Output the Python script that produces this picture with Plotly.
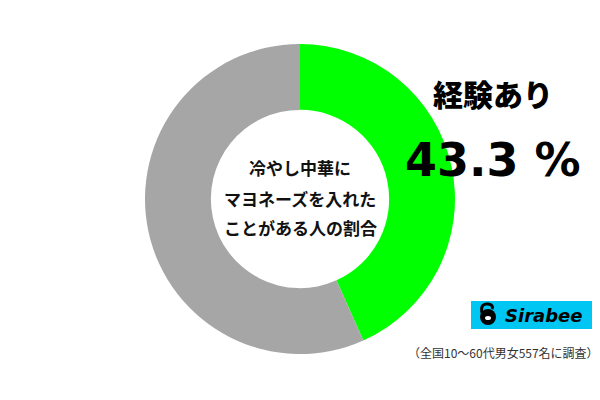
import plotly.graph_objects as go

labels = ["経験あり", "経験なし"]
values = [43.3, 56.7]
colors = ["#00FF00", "#A6A6A6"]
center_lines = ["冷やし中華に", "マヨネーズを入れた", "ことがある人の割合"]
headline = "経験あり"
pct_text = "43.3 %"
caption = "（全国10〜60代男女557名に調査）"
brand = "Sirabee"

W, H = 600, 400
def px(x): return x / W
def py(y): return 1 - y / H

fig = go.Figure(go.Pie(
    labels=labels, values=values, sort=False, direction="clockwise", rotation=0,
    hole=0.575, marker=dict(colors=colors, line=dict(width=0)),
    textinfo="none", hoverinfo="none", showlegend=False,
    domain=dict(x=[px(145), px(455)], y=[py(354), py(44)]),
))

ann = []
cy = [167, 198, 228]
for t, y in zip(center_lines, cy):
    ann.append(dict(x=px(300), y=py(y), xref="paper", yref="paper", text=t, showarrow=False,
                    font=dict(family="Noto Sans CJK JP", size=17, color="#111111", weight=700),
                    xanchor="center", yanchor="middle"))
ann.append(dict(x=px(493), y=py(93), xref="paper", yref="paper", text=headline, showarrow=False,
                font=dict(family="Noto Sans CJK JP", size=30, color="#000000", weight=900),
                xanchor="center", yanchor="middle"))
ann.append(dict(x=px(493), y=py(160), xref="paper", yref="paper", text=pct_text, showarrow=False,
                font=dict(family="DejaVu Sans", size=46, color="#000000", weight=700),
                xanchor="center", yanchor="middle"))
ann.append(dict(x=px(503), y=py(352), xref="paper", yref="paper", text=caption, showarrow=False,
                font=dict(family="Noto Sans CJK JP", size=12, color="#333333"),
                xanchor="center", yanchor="middle"))
ann.append(dict(x=px(543), y=py(315), xref="paper", yref="paper", text="<i>"+brand+"</i>", showarrow=False,
                font=dict(family="DejaVu Sans", size=18, color="#000000", weight=700),
                xanchor="center", yanchor="middle"))

shapes = [
    dict(type="rect", xref="paper", yref="paper", x0=px(471), x1=px(592), y0=py(329), y1=py(301),
         fillcolor="#00C6F3", line=dict(width=0), layer="below"),
    dict(type="circle", xref="paper", yref="paper", x0=px(480), x1=px(496), y0=py(325), y1=py(309),
         fillcolor="#000000", line=dict(width=0)),
    dict(type="path", xref="paper", yref="paper",
         path=f"M {px(482)} {py(313)} Q {px(480)} {py(303)} {px(488)} {py(304)} Q {px(494)} {py(305)} {px(492)} {py(309)}",
         line=dict(color="#000000", width=3)),
    dict(type="circle", xref="paper", yref="paper", x0=px(485), x1=px(491), y0=py(320), y1=py(316),
         fillcolor="#FFFFFF", line=dict(width=0)),
]

fig.update_layout(width=W, height=H, margin=dict(l=0, r=0, t=0, b=0),
                  paper_bgcolor="#FFFFFF", plot_bgcolor="#FFFFFF",
                  annotations=ann, shapes=shapes)
fig.write_html("out.html", config={"displayModeBar": False},
               post_script="document.body.style.margin='0';document.body.style.overflow='hidden';")
